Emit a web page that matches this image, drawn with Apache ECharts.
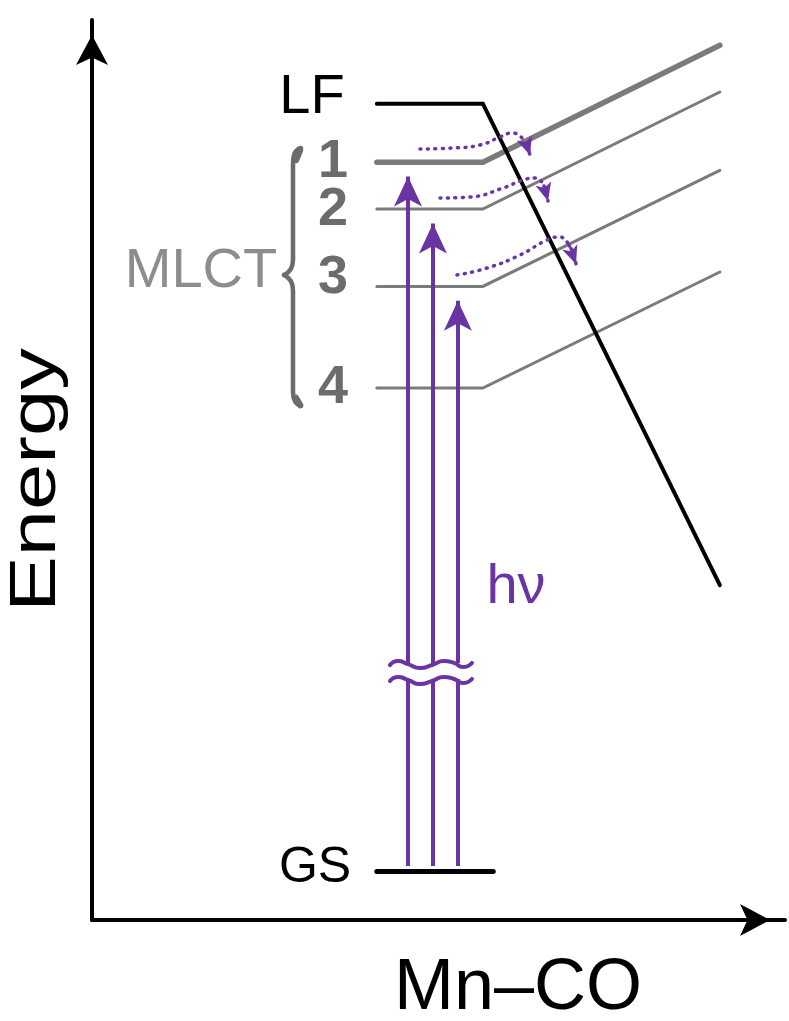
<!DOCTYPE html>
<html><head><meta charset="utf-8">
<script src="https://cdn.jsdelivr.net/npm/echarts@6/dist/echarts.min.js"></script>
<style>html,body{margin:0;padding:0;background:#fff}#c{width:789px;height:1021px}</style>
</head><body><div id="c"></div>
<script>
// ---- data (x: Mn–CO coordinate 0..100, y: energy 0..100) ----
const levelX = [41.1, 56.4, 90.6];          // start, kink, end of each state curve
const lfY    = [90.7, 90.7, 37.2];
const mlct1Y = [84.2, 84.2, 97.2];
const mlct2Y = [79.0, 79.0, 92.0];
const mlct3Y = [70.4, 70.4, 83.3];
const mlct4Y = [59.1, 59.1, 72.0];
const gsX = [41.1, 57.9];
const gsY = 5.4;
const excX = [45.6, 49.2, 52.8];
const excTargetY = [84.2, 79.0, 70.4];
const excStartY = 6.0;
const waveX      = [43.0, 44.16, 45.6, 47.33, 49.06, 50.79, 52.24, 53.54, 54.83];
const waveUpperY = [28.33, 28.78, 28.44, 28.0, 28.33, 28.78, 28.56, 28.11, 28.56];
const waveLowerY = [26.56, 27.0, 26.67, 26.22, 26.56, 27.0, 26.78, 26.33, 26.78];
const relax1X = [47.33, 52.09, 55.99, 58.87, 60.61, 61.90, 62.77, 63.20];
const relax1Y = [85.67, 85.78, 86.11, 87.0, 87.44, 87.0, 86.0, 85.0];
const relax2X = [50.22, 54.55, 59.31, 62.19, 63.92, 65.22, 65.80];
const relax2Y = [80.22, 80.33, 81.33, 82.22, 82.44, 81.56, 79.89];
const relax3X = [52.67, 57.0, 61.76, 65.66, 67.39, 68.83, 69.84];
const relax3Y = [71.67, 72.44, 73.89, 75.56, 75.89, 75.0, 72.89];
const stateLabels = ['LF', '1', '2', '3', '4'];

// ---- styles ----
const FONT = '"Liberation Sans", Arial, sans-serif';
const PURPLE = '#6a34a2';
const GRAY = '#7b7b7b';
const DGRAY = '#6c6c6c';
const HEAD_HALF = 1.6;  // half arrow-head length in y units

const zip = (xs, ys) => xs.map((x, i) => [x, ys[i]]);
const waveAt = (ys, x) => { let k = 0; for (let i = 0; i < waveX.length; i++) if (Math.abs(waveX[i]-x) < Math.abs(waveX[k]-x)) k = i; return ys[k]; };

function stateLine(ys, color, width, z) {
  return { type: 'line', data: zip(levelX, ys), symbol: 'none', silent: true, z: z,
           lineStyle: { color: color, width: width, cap: 'round', join: 'miter' } };
}
function dotted(xs, ys) {
  return { type: 'line', data: zip(xs, ys), symbol: 'none', smooth: 0.5, z: 6,
           lineStyle: { color: PURPLE, width: 3.5, type: [1, 6.5], cap: 'round' } };
}
function headOf(xs, ys) {
  const n = xs.length;
  return { coords: [[xs[n-2], ys[n-2]], [xs[n-1], ys[n-1]]] };
}
function txt(x, y, text, font, fill, extra) {
  return Object.assign({ type: 'text', x: x, y: y, silent: true,
    style: { text: text, font: font, fill: fill, align: 'center', verticalAlign: 'middle', textAlign: 'center', textVerticalAlign: 'middle' } }, extra || {});
}
const braceStyle = { fill: 'none', stroke: DGRAY, lineWidth: 4.5, lineCap: 'round' };
function bez(x1, y1, c1x, c1y, c2x, c2y, x2, y2) {
  return { type: 'bezierCurve', silent: true, shape: { x1: x1, y1: y1, cpx1: c1x, cpy1: c1y, cpx2: c2x, cpy2: c2y, x2: x2, y2: y2 }, style: braceStyle };
}
function seg(x1, y1, x2, y2, w) {
  return { type: 'line', silent: true, shape: { x1: x1, y1: y1, x2: x2, y2: y2 }, style: { stroke: DGRAY, lineWidth: w || 4.5, lineCap: 'round' } };
}
const axisCommon = {
  type: 'value', min: 0, max: 100,
  axisLine: { show: true, onZero: false, symbol: ['none', 'arrow'], symbolSize: [24, 30], symbolOffset: [0, -15],
              lineStyle: { color: '#000', width: 4 } },
  axisTick: { show: false }, axisLabel: { show: false }, splitLine: { show: false }
};

const option = {
  animation: false,
  grid: { left: 92, right: 4, top: 20, bottom: 101 },
  xAxis: axisCommon,
  yAxis: axisCommon,
  series: [
    stateLine(mlct4Y, GRAY, 3, 2),
    stateLine(mlct3Y, GRAY, 3, 2),
    stateLine(mlct2Y, GRAY, 3, 2),
    stateLine(mlct1Y, GRAY, 5.5, 2),
    stateLine(lfY, '#000', 4, 3),
    { type: 'line', data: gsX.map(x => [x, gsY]), symbol: 'none', z: 3,
      lineStyle: { color: '#000', width: 5, cap: 'round' } },
    { type: 'lines', coordinateSystem: 'cartesian2d', z: 5, silent: true,
      symbol: ['none', 'arrow'], symbolSize: [0, [21, 30]],
      lineStyle: { color: PURPLE, width: 4, opacity: 1, curveness: 0 },
      data: excX.map((x, i) => ({ coords: [[x, waveAt(waveUpperY, x)], [x, excTargetY[i] - HEAD_HALF]] })) },
    { type: 'lines', coordinateSystem: 'cartesian2d', z: 5, silent: true,
      lineStyle: { color: PURPLE, width: 4, opacity: 1, curveness: 0 },
      data: excX.map(x => ({ coords: [[x, excStartY], [x, waveAt(waveLowerY, x)]] })) },
    { type: 'line', data: zip(waveX, waveUpperY), symbol: 'none', smooth: 0.6, z: 5,
      lineStyle: { color: PURPLE, width: 4, cap: 'round' } },
    { type: 'line', data: zip(waveX, waveLowerY), symbol: 'none', smooth: 0.6, z: 5,
      lineStyle: { color: PURPLE, width: 4, cap: 'round' } },
    dotted(relax1X, relax1Y),
    dotted(relax2X, relax2Y),
    dotted(relax3X, relax3Y),
    { type: 'lines', coordinateSystem: 'cartesian2d', z: 6, silent: true,
      symbol: ['none', 'arrow'], symbolSize: [0, [12, 18]],
      lineStyle: { color: PURPLE, width: 3.5, type: [1, 6.5], cap: 'round', opacity: 1, curveness: 0 },
      data: [headOf(relax1X, relax1Y), headOf(relax2X, relax2Y), headOf(relax3X, relax3Y)] }
  ],
  graphic: [
    txt(312, 98, stateLabels[0], '56px ' + FONT, '#000'),
    txt(333, 162, stateLabels[1], 'bold 54px ' + FONT, DGRAY),
    txt(333, 210, stateLabels[2], 'bold 54px ' + FONT, DGRAY),
    txt(333, 278, stateLabels[3], 'bold 54px ' + FONT, DGRAY),
    txt(333, 388, stateLabels[4], 'bold 54px ' + FONT, DGRAY),
    txt(201, 272, 'MLCT', '56px ' + FONT, '#8d8d8d'),
    txt(315, 868, 'GS', '50px ' + FONT, '#000'),
    txt(516, 588, 'hν', '56px ' + FONT, PURPLE),
    txt(518, 989, 'Mn–CO', '72px ' + FONT, '#000'),
    txt(37, 480, 'Energy', '65px ' + FONT, '#000', { rotation: Math.PI / 2, scaleX: 1.28 }),
    bez(301, 148, 294, 150, 293, 156, 293, 166),
    seg(293, 166, 293, 258),
    bez(293, 258, 293, 268, 290, 272, 284, 275),
    bez(284, 275, 290, 278, 293, 282, 293, 292),
    seg(293, 292, 293, 392),
    bez(293, 392, 293, 400, 295, 404, 301, 406),
    seg(300, 150, 296, 160, 6.5),
    seg(296, 398, 300, 405, 6.5)
  ]
};
const chart = echarts.init(document.getElementById('c'), null, { renderer: 'canvas' });
chart.setOption(option);
</script></body></html>
